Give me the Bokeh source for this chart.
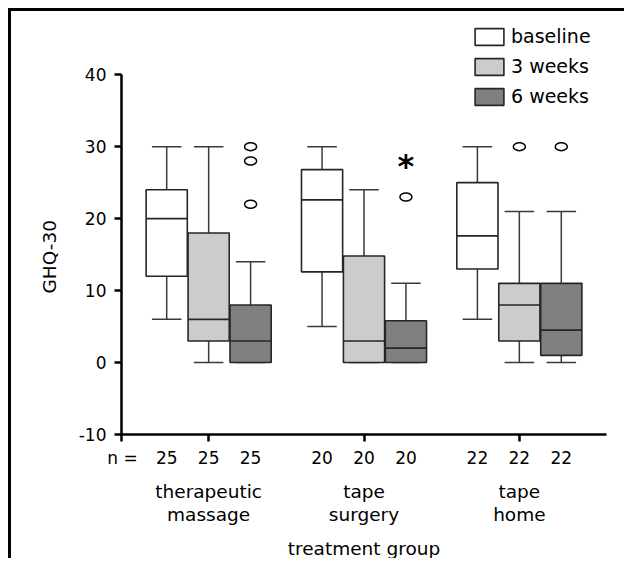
from bokeh.plotting import figure
from bokeh.models import (ColumnDataSource, Range1d, LinearAxis, FixedTicker,
                          Legend, LegendItem, Title)
from bokeh.core.properties import value
from bokeh.embed import file_html
from bokeh.resources import INLINE

# ---------------- data ----------------
groups = ["therapeutic\nmassage", "tape\nsurgery", "tape\nhome"]
series = ["baseline", "3 weeks", "6 weeks"]
n_counts = [25, 20, 22]

lower_whisker = {"baseline": [6, 5, 6], "3 weeks": [0, 0, 0], "6 weeks": [0, 0, 0]}
q1 = {"baseline": [12, 12.6, 13], "3 weeks": [3, 0, 3], "6 weeks": [0, 0, 1]}
median = {"baseline": [20, 22.6, 17.6], "3 weeks": [6, 3, 8], "6 weeks": [3, 2, 4.5]}
q3 = {"baseline": [24, 26.8, 25], "3 weeks": [18, 14.8, 11], "6 weeks": [8, 5.8, 11]}
upper_whisker = {"baseline": [30, 30, 30], "3 weeks": [30, 24, 21], "6 weeks": [14, 11, 21]}

outlier_group = [0, 0, 0, 1, 2, 2]
outlier_series = ["6 weeks", "6 weeks", "6 weeks", "6 weeks", "3 weeks", "6 weeks"]
outlier_value = [30, 28, 22, 23, 30, 30]

extreme_group = [1]
extreme_series = ["6 weeks"]
extreme_value = [27.7]

y_ticks = [-10, 0, 10, 20, 30, 40]
y_tick_labels = ["-10", "0", "10", "20", "30", "40"]

# ---------------- layout / style ----------------
group_pos = [1, 2, 3]
offset = {"baseline": -0.27, "3 weeks": 0.0, "6 weeks": 0.27}
fills = {"baseline": "#ffffff", "3 weeks": "#cccccc", "6 weeks": "#808080"}
box_w = 0.265
cap_w = 0.19
x_start, x_end = 0.439, 3.561
FONT = "DejaVu Sans"

p = figure(width=616, height=550, x_range=Range1d(x_start, x_end),
           y_range=Range1d(-10, 48.5), output_backend="svg", toolbar_location=None,
           x_axis_type=None, y_axis_type=None,
           min_border_left=110, min_border_right=21, min_border_top=2,
           min_border_bottom=127)
p.outline_line_color = None
p.background_fill_color = "white"
p.border_fill_color = "white"
# the panel frame of the original figure (left and top edges)
p.styles = {"margin-left": "8px", "margin-top": "8px",
            "border-left": "3px solid black", "border-top": "3px solid black"}

box_renderers = {}
for s in series:
    xs = [g + offset[s] for g in group_pos]
    src = ColumnDataSource(dict(
        x=xs,
        x0=[x - box_w / 2 for x in xs], x1=[x + box_w / 2 for x in xs],
        c0=[x - cap_w / 2 for x in xs], c1=[x + cap_w / 2 for x in xs],
        lo=lower_whisker[s], q1=q1[s], med=median[s], q3=q3[s], hi=upper_whisker[s]))
    p.segment("x", "q3", "x", "hi", source=src, line_color="#3a3a3a", line_width=1.5)
    p.segment("x", "lo", "x", "q1", source=src, line_color="#3a3a3a", line_width=1.5)
    p.segment("c0", "hi", "c1", "hi", source=src, line_color="#3a3a3a", line_width=1.5)
    p.segment("c0", "lo", "c1", "lo", source=src, line_color="#3a3a3a", line_width=1.5)
    r = p.vbar(x="x", width=box_w, bottom="q1", top="q3", source=src,
               fill_color=fills[s], line_color="#262626", line_width=1.6)
    box_renderers[s] = r
    p.segment("x0", "med", "x1", "med", source=src, line_color="#262626", line_width=1.6)

out_src = ColumnDataSource(dict(
    x=[group_pos[g] + offset[s] for g, s in zip(outlier_group, outlier_series)],
    y=outlier_value))
p.ellipse("x", "y", width=12, height=8, width_units="screen", height_units="screen",
          source=out_src, fill_color="white", line_color="black", line_width=1.5)

ext_src = ColumnDataSource(dict(
    x=[group_pos[g] + offset[s] for g, s in zip(extreme_group, extreme_series)],
    y=extreme_value, t=["*"] * len(extreme_value)))
p.text("x", "y", text="t", source=ext_src, text_font=value(FONT), text_font_style="bold",
       text_font_size="32px", text_align="center", text_baseline="middle",
       y_offset=3, text_color="black")

# ---------------- axes ----------------
yaxis = LinearAxis(ticker=FixedTicker(ticks=y_ticks, minor_ticks=[]), bounds=(-10, 40),
                   major_label_overrides={t: l for t, l in zip(y_ticks, y_tick_labels)},
                   major_label_text_font=FONT, major_label_text_font_size="17px",
                   major_label_text_color="black", major_label_standoff=8,
                   major_tick_out=7, major_tick_in=0, minor_tick_out=0, minor_tick_in=0,
                   axis_line_width=2.5, major_tick_line_width=2.5,
                   axis_line_color="black", major_tick_line_color="black")
p.add_layout(yaxis, "left")
p.add_layout(Title(text="GHQ-30", align="left", offset=141, standoff=31,
                   text_font=FONT, text_font_size="18.5px", text_font_style="normal",
                   text_color="black"), "left")

n_pos = [x_start + 0.006]
n_lab = ["n ="]
for gi, g in enumerate(group_pos):
    for s in series:
        n_pos.append(g + offset[s])
        n_lab.append(str(n_counts[gi]))
n_over = {pos: lab for pos, lab in zip(n_pos, n_lab)}

xaxis_n = LinearAxis(ticker=FixedTicker(ticks=n_pos, minor_ticks=[x_start + 0.001] + group_pos),
                     major_label_overrides=n_over,
                     major_label_text_font=FONT, major_label_text_font_size="17px",
                     major_label_text_color="black", major_label_standoff=6,
                     major_tick_out=0, major_tick_in=0,
                     minor_tick_out=7, minor_tick_in=0, minor_tick_line_width=2.5,
                     minor_tick_line_color="black",
                     axis_line_width=2.5, axis_line_color="black")
p.add_layout(xaxis_n, "below")

xaxis_g = LinearAxis(ticker=FixedTicker(ticks=group_pos, minor_ticks=[]),
                     major_label_overrides={g: lab for g, lab in zip(group_pos, groups)},
                     major_label_text_font=FONT, major_label_text_font_size="18.5px",
                     major_label_text_color="black", major_label_standoff=10,
                     major_label_text_line_height=1.1,
                     axis_line_color=None, major_tick_line_color=None,
                     minor_tick_line_color=None, major_tick_out=0, major_tick_in=0,
                     axis_label="treatment group", axis_label_text_font=FONT,
                     axis_label_text_font_size="18.5px", axis_label_text_font_style="normal",
                     axis_label_text_color="black", axis_label_standoff=10)
p.add_layout(xaxis_g, "below")

# ---------------- legend ----------------
legend = Legend(items=[LegendItem(label=s, renderers=[box_renderers[s]]) for s in series],
                location=(350, 327), orientation="vertical",
                glyph_width=36, glyph_height=21, label_height=21, spacing=8,
                padding=0, margin=0, label_standoff=4,
                label_text_font=FONT, label_text_font_size="19px",
                label_text_color="black",
                border_line_alpha=0, background_fill_alpha=0)
p.add_layout(legend)

open("out.html", "w").write(file_html(p, INLINE))
